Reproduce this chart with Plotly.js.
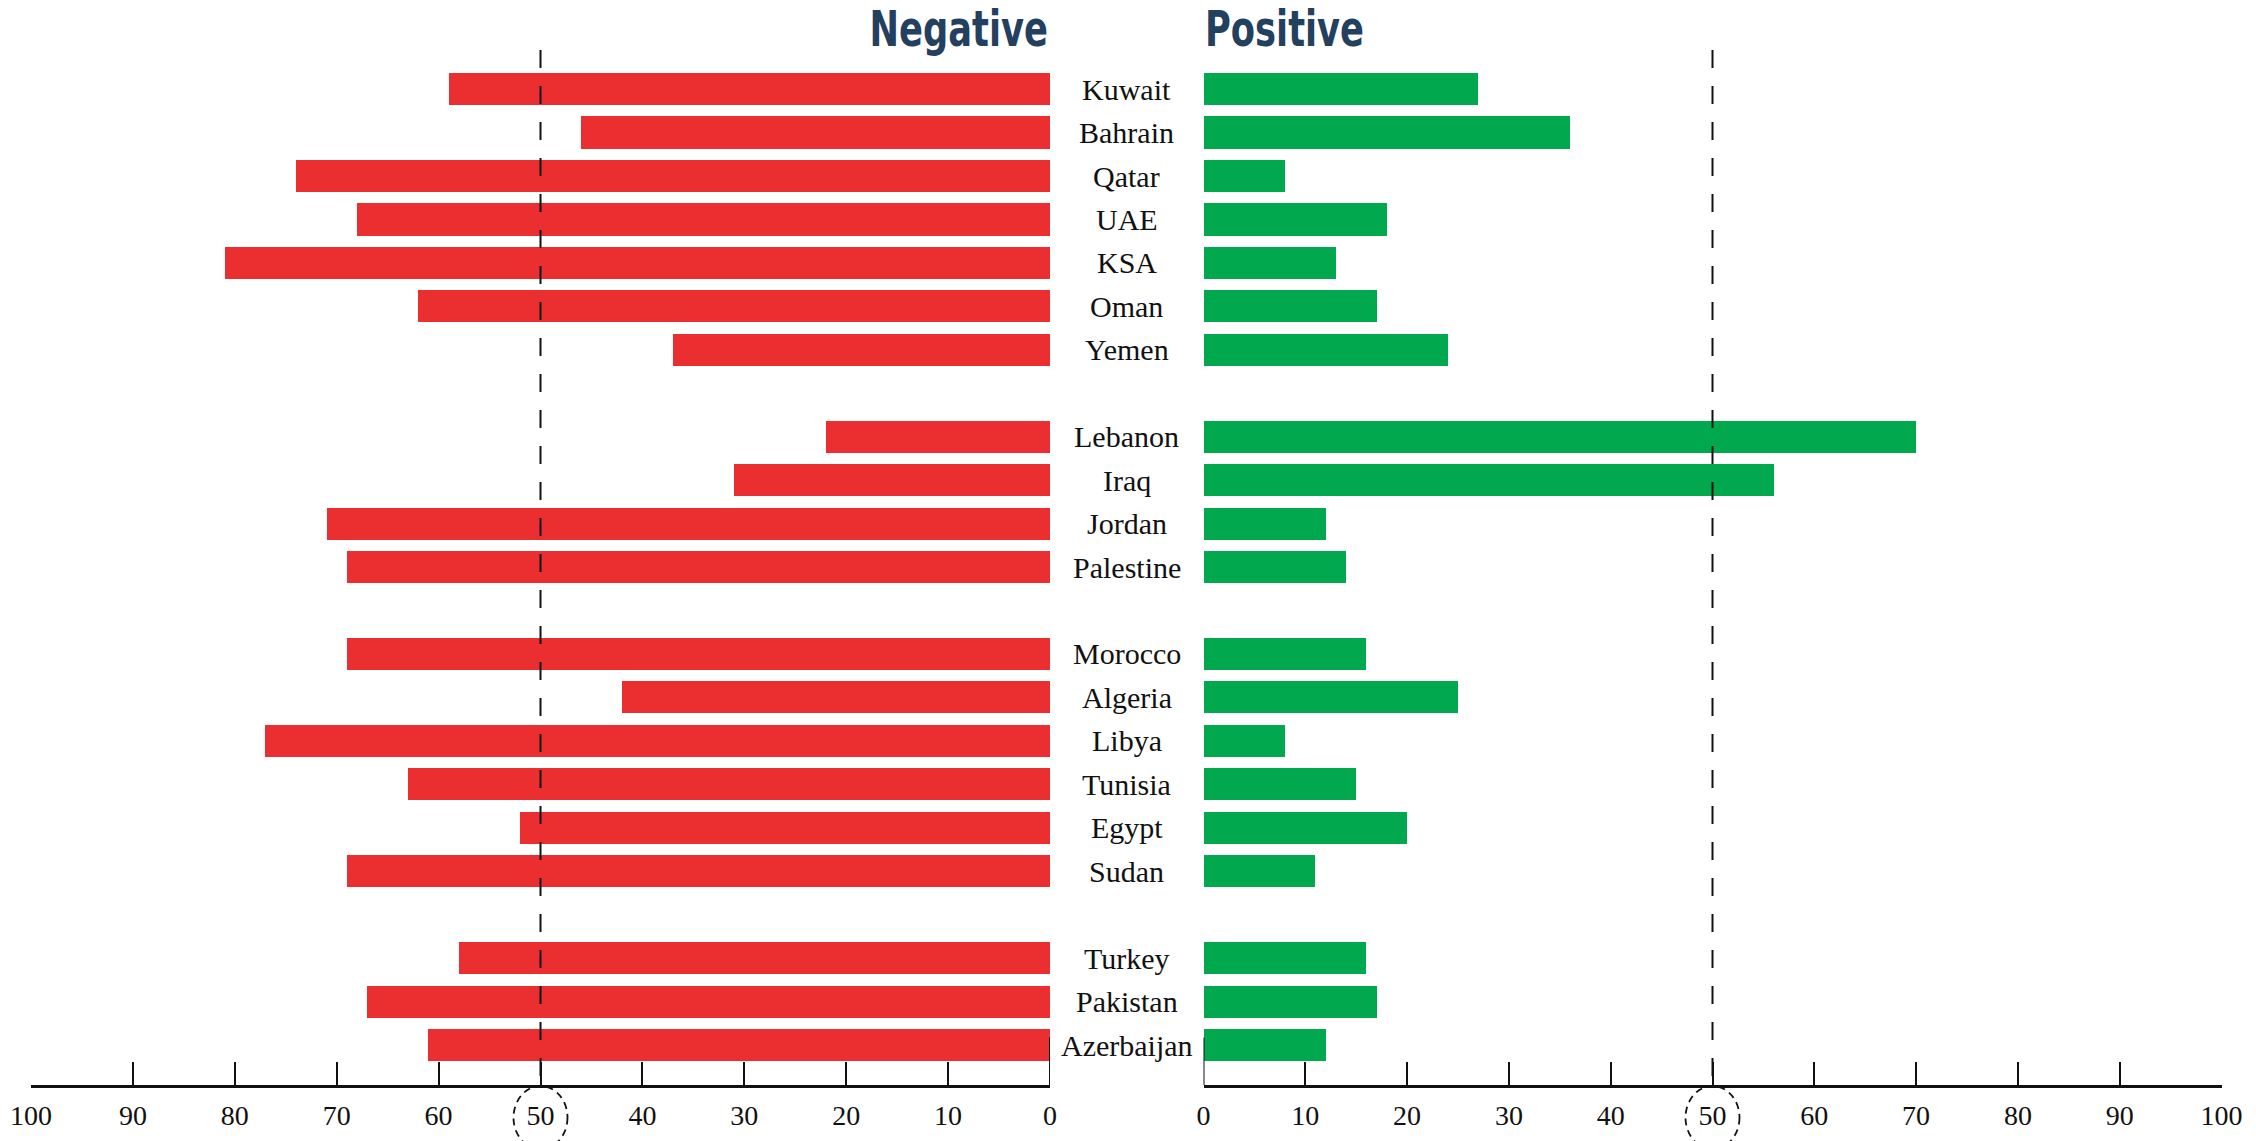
<!DOCTYPE html>
<html>
<head>
<meta charset="utf-8">
<script src="https://cdn.plot.ly/plotly-3.0.1.min.js"></script>
<style>html,body{margin:0;padding:0;background:#fff;}#chart{width:2256px;height:1141px;}</style>
</head>
<body>
<div id="chart"></div>
<script>
const countries = ["Kuwait","Bahrain","Qatar","UAE","KSA","Oman","Yemen","Lebanon","Iraq","Jordan","Palestine","Morocco","Algeria","Libya","Tunisia","Egypt","Sudan","Turkey","Pakistan","Azerbaijan"];
const groups = [1,1,1,1,1,1,1,2,2,2,2,3,3,3,3,3,3,4,4,4];
const negative = [59,46,74,68,81,62,37,22,31,71,69,69,42,77,63,52,69,58,67,61];
const positive = [27,36,8,18,13,17,24,70,56,12,14,16,25,8,15,20,11,16,17,12];
const tickValues = [0,10,20,30,40,50,60,70,80,90,100];
const tickLabels = ["0","10","20","30","40","50","60","70","80","90","100"];
const panelTitles = ["Negative","Positive"];
const threshold = 50;

const W = 2256, H = 1141;
// slot index: one empty row between groups
const slots = countries.map((c, i) => i + (groups[i] - 1));

const leftDom = [31 / W, 1050 / W];
const rightDom = [1203.5 / W, 2221.5 / W];
const red = "#EB2E30", green = "#02A84E";
const serif = "Liberation Serif, Times New Roman, serif";

const traces = [
  {type: "bar", orientation: "h", x: negative, y: slots, xaxis: "x", yaxis: "y",
   marker: {color: red}, width: 0.74, hoverinfo: "x+text", text: countries, textposition: "none"},
  {type: "bar", orientation: "h", x: positive, y: slots, xaxis: "x2", yaxis: "y",
   marker: {color: green}, width: 0.74, hoverinfo: "x+text", text: countries, textposition: "none"}
];

const axisCommon = {
  tickmode: "array", tickvals: tickValues, ticktext: tickLabels,
  ticks: "inside", ticklen: 23, tickwidth: 2, tickcolor: "#111",
  showline: true, linewidth: 3, linecolor: "#111",
  showgrid: false, zeroline: false, anchor: "y",
  tickfont: {family: serif, size: 28, color: "#111"},
  ticklabelstandoff: 3, fixedrange: true
};

function paperX(dom, reversed, v) {
  const f = reversed ? (100 - v) / 100 : v / 100;
  return dom[0] + f * (dom[1] - dom[0]);
}

const shapes = [];
[["x", leftDom, true], ["x2", rightDom, false]].forEach(([ax, dom, rev]) => {
  shapes.push({type: "line", xref: ax, yref: "paper", x0: threshold, x1: threshold, y0: 1, y1: 0,
    line: {color: "#111", width: 2, dash: "18px,18px"}});
  shapes.push({type: "line", xref: ax, yref: "paper", x0: 0, x1: 0, y0: 0, y1: 0.046,
    line: {color: "#111", width: 2}});
  const cx = paperX(dom, rev, threshold);
  shapes.push({type: "circle", xref: "paper", yref: "paper",
    x0: cx - 27 / W, x1: cx + 27 / W, y0: -0.001, y1: -0.062,
    line: {color: "#111", width: 1.8, dash: "7px,5px"}});
});

const annotations = countries.map((c, i) => ({
  text: c, xref: "paper", yref: "y", x: 0.4995, y: slots[i],
  xanchor: "center", yanchor: "middle", showarrow: false,
  font: {family: serif, size: 30, color: "#111"}
}));
const titleFont = {family: "DejaVu Sans Condensed, DejaVu Sans, sans-serif", size: 49, color: "#24405F",
  weight: "bold", stretch: "condensed"};
annotations.push({text: panelTitles[0], xref: "paper", yref: "paper", x: 1050 / W, y: 1.049,
  xanchor: "right", yanchor: "top", showarrow: false, font: titleFont});
annotations.push({text: panelTitles[1], xref: "paper", yref: "paper", x: 1203 / W, y: 1.049,
  xanchor: "left", yanchor: "top", showarrow: false, font: titleFont});

const layout = {
  width: W, height: H,
  margin: {l: 0, r: 0, t: 50, b: 56},
  paper_bgcolor: "#fff", plot_bgcolor: "#fff",
  showlegend: false, bargap: 0,
  xaxis: Object.assign({}, axisCommon, {domain: leftDom, range: [100, 0], autorange: false}),
  xaxis2: Object.assign({}, axisCommon, {domain: rightDom, range: [0, 100], autorange: false}),
  yaxis: {range: [22.92, -0.9], autorange: false, showticklabels: false, showgrid: false,
    zeroline: false, showline: false, ticks: "", fixedrange: true},
  shapes: shapes, annotations: annotations
};

Plotly.newPlot("chart", traces, layout, {displayModeBar: false, staticPlot: true}).then(gd => {
  // condense the two panel titles horizontally (no condensed bold face is installed)
  const texts = Array.from(gd.querySelectorAll("text.annotation-text"));
  const squeeze = 0.8;
  texts.forEach(t => {
    const idx = panelTitles.indexOf(t.textContent);
    if (idx < 0) return;
    const bb = t.getBBox();
    const ax = idx === 0 ? bb.x + bb.width : bb.x;
    const prev = t.getAttribute("transform") || "";
    t.setAttribute("transform", prev + ` translate(${ax},0) scale(${squeeze},1) translate(${-ax},0)`);
  });
});
</script>
</body>
</html>
